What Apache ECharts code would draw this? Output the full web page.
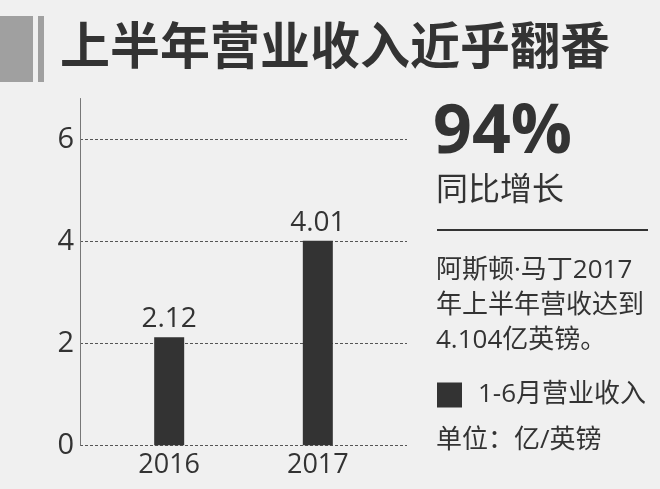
<!DOCTYPE html>
<html>
<head>
<meta charset="utf-8">
<script src="https://cdn.jsdelivr.net/npm/echarts@6/dist/echarts.min.js"></script>
<style>
html,body{margin:0;padding:0;background:#f0f0f0;}
#chart{width:660px;height:489px;}
</style>
</head>
<body>
<div id="chart"></div>
<script>
var categories = ['2016', '2017'];
var revenue = [2.12, 4.01];
var yTicks = [0, 2, 4, 6];
var seriesName = '1-6月营业收入';
var titleText = '上半年营业收入近乎翻番';
var bigNumber = '94%';
var bigNumberCaption = '同比增长';
var noteLines = ['阿斯顿·马丁2017', '年上半年营收达到', '4.104亿英镑。'];
var unitText = '单位：亿/英镑';

var FONT = "'Open Sans','Noto Sans CJK SC',sans-serif";
var TXT = '#333333';

var chart = echarts.init(document.getElementById('chart'), null, {renderer: 'canvas'});

var barData = revenue.map(function (v, i) { return [i, v]; });

var option = {
  backgroundColor: '#f0f0f0',
  animation: false,
  textStyle: {fontFamily: FONT},
  grid: {left: 80, right: 253, top: 98.5, bottom: 43.7, containLabel: false},
  legend: {
    left: 432, top: 377,
    itemWidth: 25, itemHeight: 25,
    icon: 'rect',
    data: [seriesName],
    textStyle: {fontSize: 26, color: TXT, fontFamily: FONT, padding: [0, 0, 0, 11]}
  },
  xAxis: {
    type: 'value',
    min: -0.6, max: 1.6,
    axisLine: {show: false},
    axisTick: {show: false},
    splitLine: {show: false},
    axisLabel: {
      customValues: categories.map(function (c, i) { return i; }),
      formatter: function (v) { return categories[Math.round(v)] || ''; },
      fontSize: 27, color: TXT, margin: 7, fontFamily: FONT
    }
  },
  yAxis: {
    type: 'value',
    min: 0, max: 6.8, interval: 2,
    axisLine: {show: true, onZero: false, lineStyle: {color: '#777777', width: 1}},
    axisTick: {show: false},
    axisLabel: {
      customValues: yTicks,
      fontSize: 29, color: TXT, margin: 6, fontFamily: FONT
    },
    splitLine: {
      show: true, showMaxLine: false,
      lineStyle: {color: '#555555', type: [3, 2], width: 1}
    }
  },
  series: [{
    name: seriesName,
    type: 'bar',
    data: barData,
    barWidth: 30,
    itemStyle: {color: '#333333'},
    label: {
      show: true, position: 'top', distance: 4,
      fontSize: 28, color: TXT, fontFamily: FONT,
      formatter: function (p) { return p.value[1].toFixed(2); }
    }
  }],
  graphic: [
    {type: 'rect', shape: {x: 0, y: 16, width: 33, height: 66}, style: {fill: '#a0a0a0'}},
    {type: 'rect', shape: {x: 38, y: 16, width: 6, height: 66}, style: {fill: '#a0a0a0'}},
    {type: 'text', left: 60, top: 20, style: {text: titleText, font: "bold 50px 'Noto Sans CJK SC',sans-serif", fill: TXT}},
    {type: 'text', left: 433, top: 100, style: {text: bigNumber, font: "bold 68px 'Open Sans','Noto Sans CJK SC',sans-serif", fill: TXT}},
    {type: 'text', left: 436, top: 172, style: {text: bigNumberCaption, font: "32px 'Noto Sans CJK SC',sans-serif", fill: TXT}},
    {type: 'line', shape: {x1: 437, y1: 230, x2: 648, y2: 230}, style: {stroke: TXT, lineWidth: 2}},
    {type: 'text', left: 436, top: 253, style: {text: noteLines.join('\n'), font: "26px " + FONT, fill: TXT, lineHeight: 35}},
    {type: 'text', left: 436, top: 428, style: {text: unitText, font: "26px " + FONT, fill: TXT}}
  ]
};
chart.setOption(option);
</script>
</body>
</html>
